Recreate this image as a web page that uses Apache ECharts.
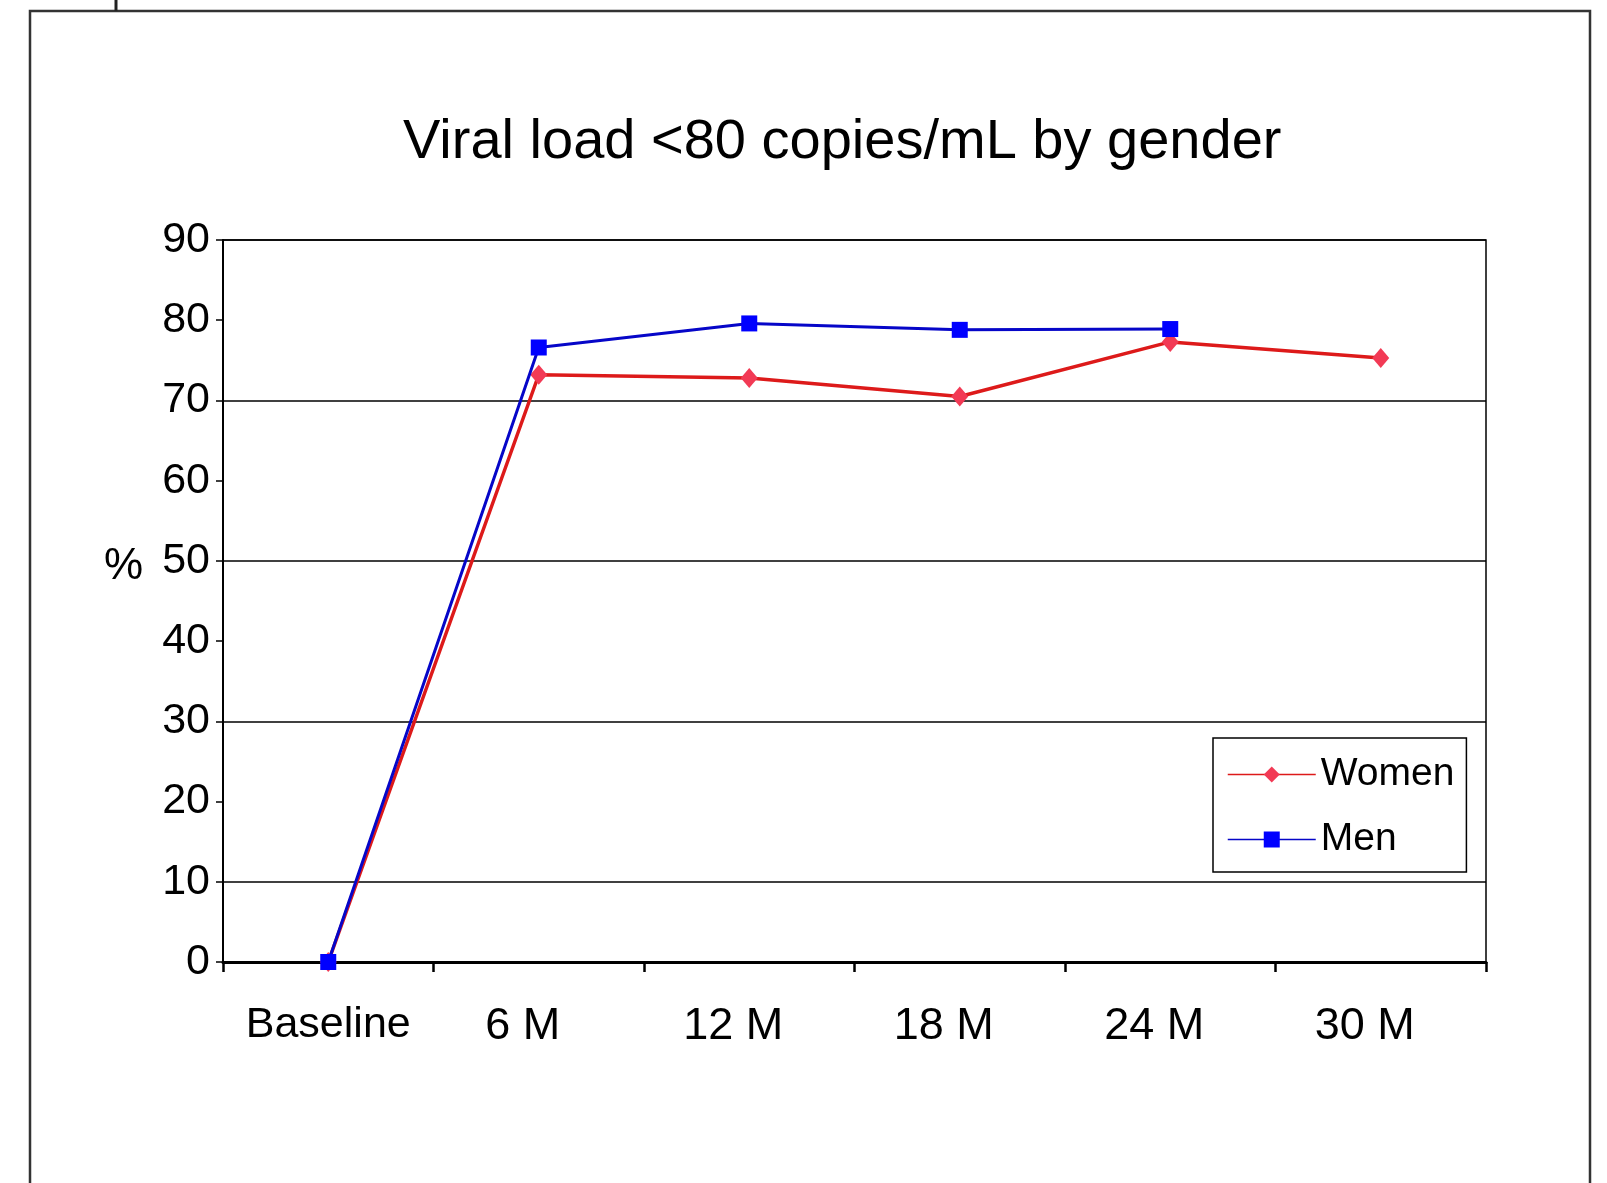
<!DOCTYPE html>
<html>
<head>
<meta charset="utf-8">
<script src="https://cdn.jsdelivr.net/npm/echarts@6/dist/echarts.min.js"></script>
<style>
  html, body { margin: 0; padding: 0; background: #fff; }
  #chart { width: 1607px; height: 1183px; }
</style>
</head>
<body>
<div id="chart"></div>
<script>
// data
const categories = ['Baseline', '6 M', '12 M', '18 M', '24 M', '30 M']
const women = [0, 73.2, 72.8, 70.5, 77.3, 75.3]
const men = [0, 76.6, 79.6, 78.8, 78.9, null]
const yTicks = { min: 0, max: 90, step: 10 }

const FONT = '"Liberation Sans", Arial, sans-serif'

const chart = echarts.init(document.getElementById('chart'), null, { renderer: 'canvas' })

chart.setOption({
  backgroundColor: '#fff',
  animation: false,
  textStyle: { fontFamily: FONT, color: '#000' },
  title: {
    text: 'Viral load <80 copies/mL by gender',
    left: 398,
    top: 110,
    textStyle: { fontFamily: FONT, fontSize: 56, fontWeight: 'normal', color: '#000' },
  },
  graphic: [
    // outer frame of the slide, bottom edge runs off the picture
    { type: 'rect', shape: { x: 30, y: 11, width: 1560, height: 1220 }, style: { fill: 'none', stroke: '#333', lineWidth: 2.5 }, silent: true },
    { type: 'line', shape: { x1: 116, y1: 0, x2: 116, y2: 11 }, style: { stroke: '#222', lineWidth: 3 }, silent: true },
  ],
  grid: {
    left: 223, top: 240, right: 121, bottom: 221,
    show: true, borderColor: '#000', borderWidth: 1.5, backgroundColor: 'transparent',
  },
  legend: {
    orient: 'vertical',
    left: 1213,
    top: 738,
    padding: [17, 12, 13, 14],
    itemGap: 26,
    itemWidth: 88,
    itemHeight: 20,
    borderColor: '#000',
    borderWidth: 1.5,
    backgroundColor: '#fff',
    lineStyle: { width: 1.5 },
    textStyle: { fontFamily: FONT, fontSize: 39, color: '#000' },
    data: ['Women', 'Men'],
  },
  xAxis: {
    type: 'category',
    data: categories,
    boundaryGap: true,
    axisLine: { show: true, lineStyle: { color: '#000', width: 3 } },
    axisTick: { show: true, interval: 0, length: 10, lineStyle: { color: '#000', width: 2.5 } },
    axisLabel: {
      interval: 0,
      margin: 42,
      fontFamily: FONT,
      fontSize: 44,
      color: '#000',
      formatter: v => v === 'Baseline' ? '{b|' + v + '}' : '{m|' + v + '}',
      rich: {
        b: { fontFamily: FONT, fontSize: 43, color: '#000' },
        m: { fontFamily: FONT, fontSize: 45, color: '#000', padding: [0, 32, 0, 0] },
      },
    },
    splitLine: { show: false },
  },
  yAxis: {
    type: 'value',
    min: yTicks.min,
    max: yTicks.max,
    interval: yTicks.step,
    name: '{p|%}',
    nameLocation: 'middle',
    nameRotate: 0,
    nameGap: 80,
    nameTextStyle: {
      fontFamily: FONT, fontSize: 44, color: '#000',
      rich: { p: { fontFamily: FONT, fontSize: 44, color: '#000', padding: [0, 0, 68, 0] } },
    },
    axisLine: { show: true, lineStyle: { color: '#000', width: 2 } },
    axisTick: { show: true, length: 7, lineStyle: { color: '#000', width: 1.5 } },
    axisLabel: { margin: 13, fontFamily: FONT, fontSize: 43, color: '#000' },
    // gridlines only on 10, 30, 50, 70, 90
    splitLine: { show: true, lineStyle: { color: ['transparent', '#000'], width: 1.5 } },
  },
  series: [
    {
      name: 'Women',
      type: 'line',
      data: women,
      symbol: 'diamond',
      symbolSize: [17, 20],
      lineStyle: { color: '#dd1a1a', width: 3.5 },
      itemStyle: { color: '#f23a55' },
      z: 2,
    },
    {
      name: 'Men',
      type: 'line',
      data: men,
      symbol: 'rect',
      symbolSize: 16,
      lineStyle: { color: '#0606c8', width: 3 },
      itemStyle: { color: '#0000ff' },
      z: 3,
    },
  ],
})
</script>
</body>
</html>
